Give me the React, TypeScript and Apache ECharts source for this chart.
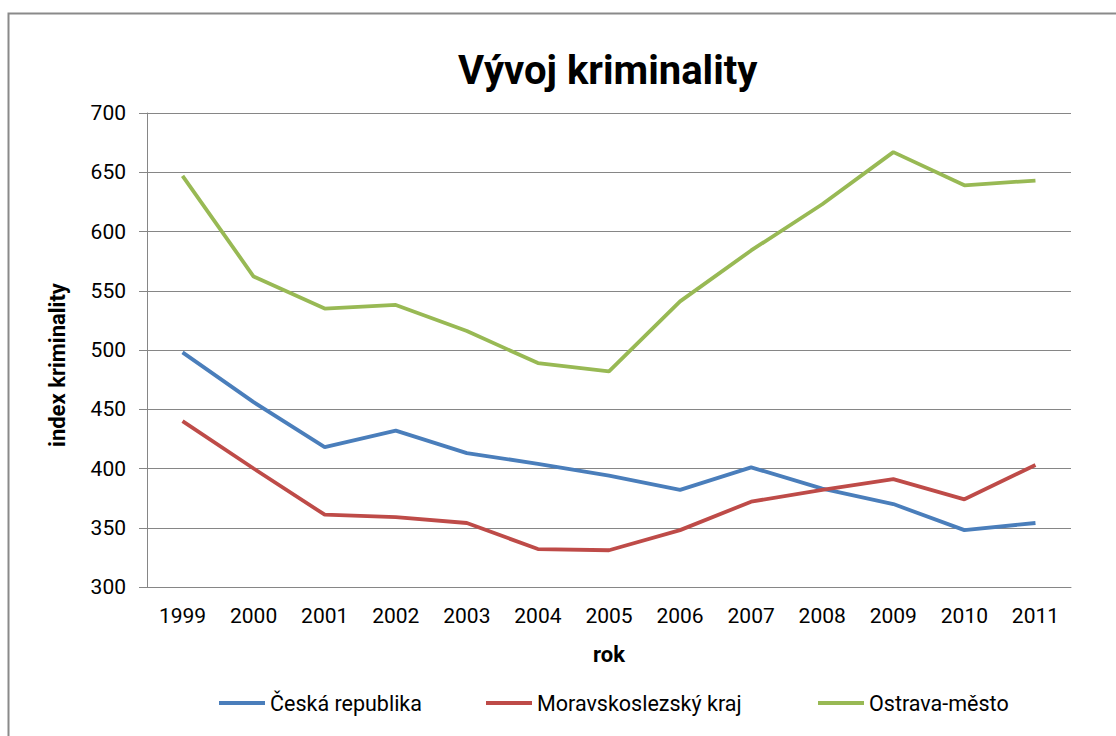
import React, { useEffect, useRef } from "react";
import * as echarts from "echarts";

const years = ["1999", "2000", "2001", "2002", "2003", "2004", "2005", "2006", "2007", "2008", "2009", "2010", "2011"];
const ceskaRepublika = [498, 456, 418, 432, 413, 404, 394, 382, 401, 383, 370, 348, 354];
const moravskoslezsky = [440, 400, 361, 359, 354, 332, 331, 348, 372, 382, 391, 374, 403];
const ostrava = [647, 562, 535, 538, 516, 489, 482, 541, 584, 623, 667, 639, 643];
const seriesNames = ["Česká republika", "Moravskoslezský kraj", "Ostrava-město"];
const colors = ["#4A7EBB", "#BE4B48", "#98B954"];

const FONT = "Roboto, 'Noto Sans', sans-serif";
const GRID = "#868686";

export default function App() {
  const ref = useRef<HTMLDivElement>(null);
  useEffect(() => {
    if (!ref.current) return;
    const chart = echarts.init(ref.current, null, { renderer: "svg" });
    const values = [ceskaRepublika, moravskoslezsky, ostrava];
    const legendLefts = [219, 486, 818];
    chart.setOption({
      animation: false,
      backgroundColor: "#ffffff",
      textStyle: { fontFamily: FONT },
      title: {
        text: "Vývoj kriminality",
        left: 458,
        top: 50,
        padding: 0,
        textStyle: { fontFamily: FONT, fontSize: 40, fontWeight: "bold", color: "#000" },
      },
      graphic: [
        {
          type: "rect",
          shape: { x: 8.5, y: 13.5, width: 1200, height: 800 },
          style: { fill: "none", stroke: "#8a8a8a", lineWidth: 2 },
          silent: true,
        },
      ],
      legend: seriesNames.map((n, i) => ({
        data: [n],
        left: legendLefts[i],
        top: 692,
        padding: 0,
        icon: "rect",
        itemWidth: 46,
        itemHeight: 4,
        textStyle: { fontFamily: FONT, fontSize: 21.5, color: "#000" },
      })),
      grid: { left: 147, top: 113, right: 45, bottom: 149, containLabel: false },
      xAxis: {
        type: "category",
        data: years,
        boundaryGap: true,
        name: "rok",
        nameLocation: "middle",
        nameGap: 56,
        nameTextStyle: { fontFamily: FONT, fontSize: 22, fontWeight: "bold", color: "#000" },
        axisLine: { lineStyle: { color: GRID, width: 1 } },
        axisTick: { alignWithLabel: true, length: 6, lineStyle: { color: GRID } },
        axisLabel: { fontFamily: FONT, fontSize: 21, color: "#000", margin: 18 },
        splitLine: { show: false },
      },
      yAxis: {
        type: "value",
        min: 300,
        max: 700,
        interval: 50,
        name: "index kriminality",
        nameLocation: "middle",
        nameGap: 79,
        nameTextStyle: { fontFamily: FONT, fontSize: 22, fontWeight: "bold", color: "#000", padding: [0, 30, 0, 0] },
        axisLine: { show: true, lineStyle: { color: GRID, width: 1 } },
        axisTick: { show: true, length: 8, lineStyle: { color: GRID } },
        axisLabel: { fontFamily: FONT, fontSize: 21, color: "#000", margin: 21 },
        splitLine: { show: true, lineStyle: { color: GRID, width: 1 } },
      },
      series: seriesNames.map((n, i) => ({
        name: n,
        type: "line",
        data: values[i],
        symbol: "none",
        showSymbol: false,
        color: colors[i],
        lineStyle: { color: colors[i], width: 3.8 },
        z: 3 + i,
      })),
    });
    return () => chart.dispose();
  }, []);
  return (
    <div
      ref={ref}
      style={{ position: "absolute", left: 0, top: 0, width: 1116, height: 736, background: "#fff" }}
    />
  );
}
